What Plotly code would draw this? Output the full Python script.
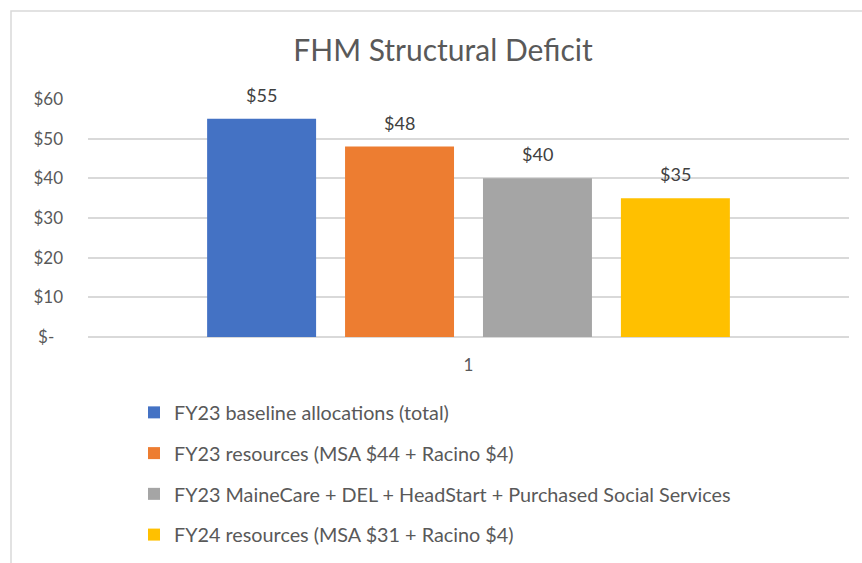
import plotly.graph_objects as go

# ---- data ----
categories = ["1"]
series_names = [
    "FY23 baseline allocations (total)",
    "FY23 resources (MSA $44 + Racino $4)",
    "FY23 MaineCare + DEL + HeadStart + Purchased Social Services",
    "FY24 resources (MSA $31 + Racino $4)",
]
series_values = [55, 48, 40, 35]
series_colors = ["#4472C4", "#ED7D31", "#A5A5A5", "#FFC000"]
y_tick_vals = [0, 10, 20, 30, 40, 50, 60]
y_tick_text = ["$-\u00a0\u00a0", "$10", "$20", "$30", "$40", "$50", "$60"]

# ---- layout params ----
W, H = 862, 563
ML, MR, MT, MB = 88, 13, 99, 226
BARGAP = 0.275
BARGROUPGAP = 0.21
FONT = "Lato, Calibri, Carlito, sans-serif"

fig = go.Figure()
for name, val, col in zip(series_names, series_values, series_colors):
    fig.add_trace(go.Bar(
        x=categories, y=[val], name=name, marker_color=col,
        marker_line_width=0, legendgroup=name,
    ))

# data labels
plot_w = W - ML - MR
slot = plot_w * (1 - BARGAP) / len(series_values)
n = len(series_values)
for i, val in enumerate(series_values):
    fig.add_annotation(
        x=0, y=val, text=f"${val}", showarrow=False,
        xshift=(i - (n - 1) / 2) * slot, yanchor="bottom", yshift=11,
        font=dict(family=FONT, size=18, color="#404040"),
    )

# outer chart border
ph = H - MT - MB
fig.add_shape(
    type="rect", xref="paper", yref="paper",
    x0=(11 - ML) / plot_w, x1=(870 - ML) / plot_w,
    y0=(MT + ph - 570) / ph, y1=(MT + ph - 11) / ph,
    line=dict(color="#D9D9D9", width=1.5), fillcolor="rgba(0,0,0,0)",
    layer="below",
)

fig.update_layout(
    width=W, height=H,
    margin=dict(l=ML, r=MR, t=MT, b=MB, autoexpand=False),
    paper_bgcolor="white", plot_bgcolor="white",
    barmode="group", bargap=BARGAP, bargroupgap=BARGROUPGAP,
    font=dict(family=FONT, size=17, color="#595959"),
    title=dict(
        text="FHM Structural Deficit", x=443 / W, xanchor="center",
        y=1 - 50 / H, yanchor="middle",
        font=dict(family=FONT, size=30, color="#595959"),
    ),
    showlegend=True,
    legend=dict(
        orientation="v", x=(134 - ML) / plot_w, xanchor="left",
        y=(MT + ph - 393) / ph, yanchor="top",
        tracegroupgap=12, font=dict(family=FONT, size=19.8, color="#595959"),
        bgcolor="rgba(0,0,0,0)",
    ),
)
fig.update_yaxes(
    range=[0, 60], tickvals=y_tick_vals, ticktext=y_tick_text,
    showgrid=True, gridcolor="#D9D9D9", gridwidth=1.5,
    zeroline=True, zerolinecolor="#D9D9D9", zerolinewidth=1.5,
    showline=False, ticks="", ticklabelstandoff=24,
    tickfont=dict(family=FONT, size=17, color="#595959"),
)
fig.update_xaxes(
    type="category", range=[-0.5, 0.5],
    showgrid=False, showline=False, ticks="", ticklabelstandoff=16,
    tickfont=dict(family=FONT, size=17, color="#595959"),
)

fig.write_html(
    "out.html",
    config={"displayModeBar": False},
    post_script="document.body.style.margin='0px';",
)
